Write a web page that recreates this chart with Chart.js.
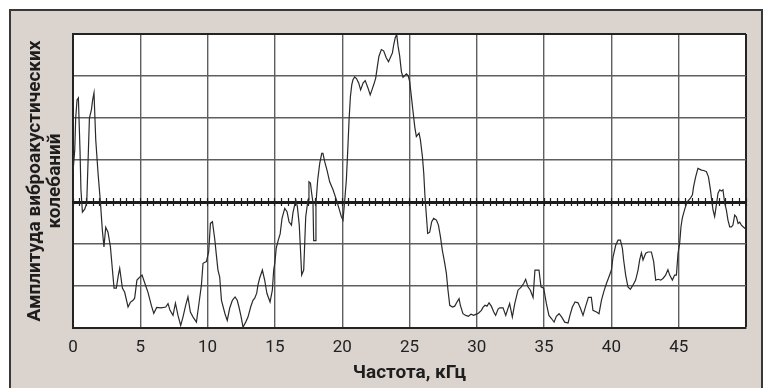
<!DOCTYPE html>
<html>
<head>
<meta charset="utf-8">
<script src="https://cdn.jsdelivr.net/npm/chart.js@4/dist/chart.umd.min.js"></script>
<style>
  html, body { margin: 0; padding: 0; background: #ffffff; }
  #wrap { position: relative; width: 766px; height: 388px; overflow: hidden; }
  #frame { position: absolute; left: 9px; top: 9px; width: 750px; height: 400px;
           border: 2px solid #383838; background: #dbd3ce; }
  #chart { position: absolute; left: 0; top: 0; }
</style>
</head>
<body>
<div id="wrap">
  <div id="frame"></div>
  <canvas id="chart" width="766" height="388"></canvas>
</div>
<script>
// Vibro-acoustic spectrum: frequency (kHz) and amplitude (grid units)
const freqKHz = [
  0.01,0.13,0.20,0.30,0.40,0.52,0.59,0.70,0.87,1.02,
  1.11,1.22,1.37,1.46,1.56,1.69,1.86,2.04,2.18,2.30,
  2.43,2.60,2.78,2.93,3.05,3.22,3.37,3.47,3.67,3.84,
  4.09,4.26,4.46,4.58,4.75,4.96,5.13,5.33,5.57,5.82,
  6.00,6.22,6.52,6.74,6.89,7.06,7.21,7.43,7.61,7.80,
  8.00,8.17,8.37,8.54,8.72,8.92,9.17,9.36,9.54,9.66,
  9.91,10.08,10.21,10.36,10.53,10.65,10.77,10.90,11.03,11.29,
  11.46,11.64,11.84,12.04,12.20,12.33,12.48,12.63,12.83,13.00,
  13.20,13.37,13.50,13.65,13.74,13.87,14.07,14.24,14.41,14.64,
  14.81,14.91,14.99,15.10,15.23,15.39,15.53,15.73,15.90,16.05,
  16.23,16.34,16.55,16.67,16.81,16.89,16.99,17.14,17.29,17.46,
  17.53,17.64,17.73,17.83,17.88,18.01,18.05,18.18,18.33,18.48,
  18.57,18.70,18.87,19.07,19.32,19.57,19.76,19.94,20.06,20.19,
  20.31,20.43,20.51,20.61,20.71,20.80,20.93,21.06,21.23,21.37,
  21.55,21.71,21.92,22.08,22.21,22.34,22.49,22.60,22.73,22.91,
  23.08,23.28,23.44,23.58,23.73,23.83,23.94,24.05,24.15,24.27,
  24.40,24.52,24.64,24.77,24.90,25.01,25.14,25.26,25.39,25.51,
  25.71,25.81,25.96,26.06,26.15,26.26,26.35,26.50,26.65,26.80,
  27.00,27.15,27.30,27.44,27.62,27.74,27.86,27.99,28.19,28.36,
  28.53,28.68,28.78,28.97,29.18,29.38,29.57,29.77,29.97,30.12,
  30.34,30.46,30.61,30.76,30.91,31.08,31.26,31.40,31.58,31.70,
  31.95,32.15,32.30,32.44,32.64,32.82,33.06,33.31,33.48,33.63,
  33.80,33.98,34.18,34.32,34.62,34.77,34.97,35.17,35.36,35.56,
  35.74,35.91,36.11,36.31,36.53,36.78,36.92,37.10,37.30,37.52,
  37.70,37.89,38.09,38.29,38.51,38.63,38.89,39.08,39.26,39.43,
  39.63,39.82,40.00,40.12,40.32,40.49,40.67,40.82,40.91,41.06,
  41.23,41.41,41.60,41.80,41.98,42.10,42.23,42.35,42.55,42.72,
  42.97,43.14,43.29,43.48,43.66,43.83,44.03,44.20,44.33,44.53,
  44.70,44.83,44.95,45.07,45.17,45.27,45.45,45.62,45.87,46.02,
  46.11,46.26,46.43,46.69,46.86,47.06,47.21,47.36,47.45,47.55,
  47.67,47.80,47.92,48.05,48.17,48.29,48.42,48.54,48.66,48.79,
  48.92,49.03,49.16,49.29,49.41,49.53,49.66,49.78,49.94
];
const amplitude = [
  3.76,4.24,5.00,5.43,5.48,4.24,3.29,2.76,2.83,2.98,
  3.88,5.00,5.20,5.43,5.60,4.48,3.69,2.98,2.33,1.93,
  2.40,2.28,1.93,1.38,0.95,0.95,1.26,1.42,0.95,0.85,
  0.50,0.61,0.66,0.71,1.14,1.21,1.26,1.07,0.85,0.54,
  0.35,0.49,0.48,0.49,0.50,0.58,0.42,0.30,0.59,0.30,
  0.06,0.26,0.54,0.74,0.38,0.26,0.14,0.59,1.02,1.54,
  1.58,1.81,2.49,2.53,2.12,1.74,1.38,1.21,0.66,0.34,
  0.18,0.47,0.66,0.74,0.66,0.50,0.28,0.02,0.14,0.26,
  0.50,0.66,0.71,0.83,1.02,1.19,1.38,1.14,0.82,0.62,
  0.90,1.38,1.54,1.90,2.07,2.24,2.61,2.85,2.77,2.53,
  2.45,2.74,3.05,2.89,2.45,1.93,1.26,1.38,2.65,3.05,
  3.48,3.45,3.21,2.98,2.08,2.08,2.97,3.53,3.92,4.16,
  4.16,3.96,3.76,3.48,3.29,3.05,2.85,2.65,2.57,3.05,
  3.53,4.36,4.96,5.51,5.79,5.91,5.98,5.94,5.83,5.67,
  5.83,5.89,5.71,5.55,5.67,5.79,5.95,6.20,6.47,6.63,
  6.60,6.43,6.34,6.44,6.55,6.75,6.91,6.99,6.71,6.48,
  6.10,5.97,6.01,6.05,6.01,5.87,5.51,5.16,4.79,4.56,
  4.64,4.48,4.08,3.68,3.13,2.65,2.25,2.28,2.53,2.61,
  2.57,2.45,2.17,1.85,1.54,1.30,0.90,0.54,0.50,0.52,
  0.62,0.70,0.54,0.34,0.30,0.28,0.33,0.30,0.33,0.35,
  0.42,0.49,0.54,0.52,0.60,0.52,0.38,0.30,0.45,0.48,
  0.48,0.30,0.45,0.58,0.26,0.58,0.90,0.98,1.06,1.16,
  0.98,0.90,0.73,1.38,1.38,0.98,0.95,0.58,0.30,0.22,
  0.14,0.28,0.34,0.26,0.14,0.12,0.30,0.50,0.62,0.60,
  0.47,0.30,0.52,0.73,0.73,0.42,0.38,0.34,0.66,0.86,
  1.06,1.22,1.38,1.69,1.97,2.09,2.09,1.89,1.62,1.26,
  0.98,0.92,1.02,1.14,1.38,1.62,1.79,1.62,1.78,1.81,
  1.81,1.58,1.14,1.16,1.14,1.18,1.26,1.39,1.26,1.14,
  1.26,1.26,1.78,2.01,2.41,2.62,2.83,3.00,3.09,3.17,
  3.37,3.60,3.80,3.76,3.75,3.72,3.60,3.29,3.05,2.81,
  2.65,2.93,3.21,3.29,3.26,3.29,2.97,2.81,2.57,2.41,
  2.41,2.45,2.69,2.64,2.49,2.52,2.45,2.41,2.37
];

// Axis ticks and labels
const freqTickValues = [0, 5, 10, 15, 20, 25, 30, 35, 40, 45, 50];
const freqTickLabels = ['0', '5', '10', '15', '20', '25', '30', '35', '40', '45', ''];
const ampGridValues = [0, 1, 2, 3, 4, 5, 6, 7];

// Reference level line and the spacing of its marks (kHz)
const referenceLevel = 3;
const referenceMarkStep = 0.5;

const xTitle = 'Частота, кГц';
const yTitle = ['Амплитуда виброакустических', 'колебаний'];

const FONT = '"Liberation Sans Narrow", Roboto, "Liberation Sans", sans-serif';
const GRID = '#5e5e5e';
const EDGE = '#232323';

const points = freqKHz.map((f, i) => ({ x: f, y: amplitude[i] }));

const plotBackground = {
  id: 'plotBackground',
  beforeDraw(chart) {
    const { ctx, chartArea: a } = chart;
    ctx.save();
    ctx.fillStyle = '#ffffff';
    ctx.fillRect(a.left, a.top, a.right - a.left, a.bottom - a.top);
    ctx.restore();
  }
};

const markAxis = (up) => ({
  type: 'linear',
  axis: 'x',
  position: { y: referenceLevel },
  min: 0,
  max: 50,
  ticks: { display: false, stepSize: referenceMarkStep, maxTicksLimit: 1000 },
  grid: { display: true, drawOnChartArea: false, drawTicks: true,
          tickLength: up ? -4 : 2, tickWidth: 1.2, tickColor: '#1c1c1c' },
  border: { display: !up, width: 3, color: '#1c1c1c' }
});

new Chart(document.getElementById('chart'), {
  type: 'line',
  data: {
    datasets: [{
      data: points,
      borderColor: '#2a2a2a',
      borderWidth: 1.2,
      pointRadius: 0,
      tension: 0,
      fill: false
    }]
  },
  options: {
    responsive: false,
    animation: false,
    devicePixelRatio: 1,
    layout: { padding: { left: 0, top: 34, right: 20, bottom: 0 } },
    plugins: { legend: { display: false }, tooltip: { enabled: false } },
    scales: {
      x: {
        type: 'linear',
        min: 0,
        max: 50,
        afterBuildTicks: (s) => { s.ticks = freqTickValues.map(v => ({ value: v })); },
        afterFit: (s) => { s.height = 60; },
        ticks: {
          autoSkip: false, maxRotation: 0, padding: 10,
          color: '#222222',
          font: { family: FONT, size: 17 },
          callback: (v, i) => freqTickLabels[i]
        },
        grid: {
          drawTicks: false,
          color: (c) => (c.tick && c.tick.value === 50 ? EDGE : GRID),
          lineWidth: (c) => (c.tick && c.tick.value === 50 ? 2 : 1.4)
        },
        border: { display: true, color: EDGE, width: 2 },
        title: {
          display: true, text: xTitle, color: '#1e1e1e',
          font: { family: FONT, size: 19, weight: 'bold', lineHeight: 1 },
          padding: { top: 0, bottom: 5 }
        }
      },
      y: {
        type: 'linear',
        min: 0,
        max: 7,
        afterBuildTicks: (s) => { s.ticks = ampGridValues.map(v => ({ value: v })); },
        afterFit: (s) => { s.width = 73; },
        ticks: { display: false },
        grid: {
          drawTicks: false,
          color: (c) => (c.tick && c.tick.value === 7 ? EDGE : GRID),
          lineWidth: (c) => (c.tick && c.tick.value === 7 ? 2 : 1.4)
        },
        border: { display: true, color: EDGE, width: 2 },
        title: {
          display: true, text: yTitle, color: '#1e1e1e',
          font: { family: FONT, size: 19, weight: 'bold', lineHeight: 1.05 },
          padding: { top: 25, bottom: 0 }
        }
      },
      refMarksDown: markAxis(false),
      refMarksUp: markAxis(true)
    }
  },
  plugins: [plotBackground]
});
</script>
</body>
</html>
